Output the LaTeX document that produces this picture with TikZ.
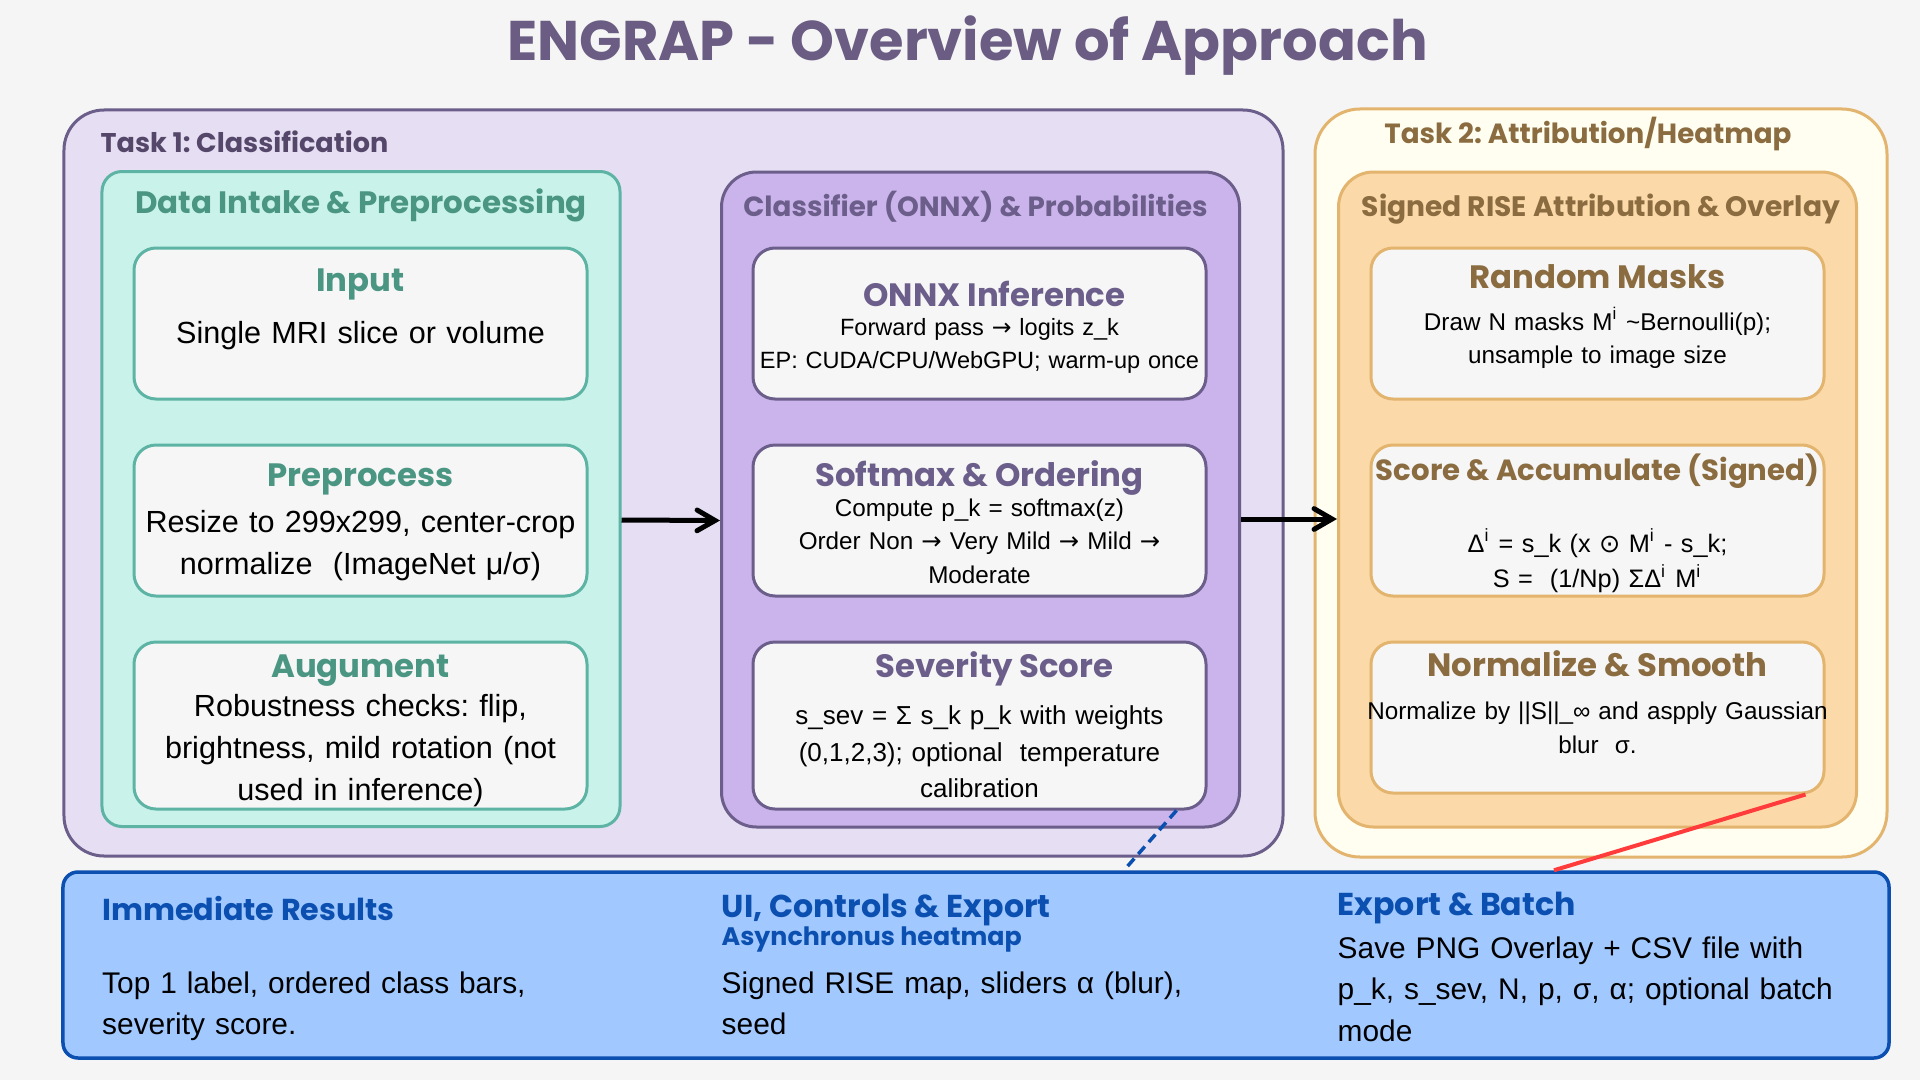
\documentclass[tikz,border=0pt]{standalone}
\usepackage{fontspec}
\setmainfont{Liberation Sans}
\newfontfamily\headfont{Poppins}
\newfontfamily\glyphfont{DejaVu Sans}
\usepackage{tikz}
\usetikzlibrary{positioning}
\usetikzlibrary{arrows}
\frenchspacing

\definecolor{pagebg}{HTML}{F5F5F5}
\definecolor{titleink}{HTML}{6A5C82}
\definecolor{lavender}{HTML}{E6DEF2}
\definecolor{plum}{HTML}{6B5E8A}
\definecolor{plumtext}{HTML}{54476A}
\definecolor{plumhead}{HTML}{6C5E8B}
\definecolor{lilac}{HTML}{CBB4EB}
\definecolor{mint}{HTML}{C9F3EA}
\definecolor{tealline}{HTML}{5DB4A4}
\definecolor{tealtext}{HTML}{4A9683}
\definecolor{cardbg}{HTML}{F6F6F6}
\definecolor{ivory}{HTML}{FFFEF0}
\definecolor{tanline}{HTML}{E3B46E}
\definecolor{peach}{HTML}{FBD9A8}
\definecolor{brownink}{HTML}{8A6C40}
\definecolor{skyblue}{HTML}{A1C9FF}
\definecolor{navy}{HTML}{0B4FB0}
\definecolor{alertred}{HTML}{FF3B3B}

\newcommand\arr{{\glyphfont →}}

\begin{document}
\begin{tikzpicture}[x=1mm,y=-1mm,>=angle 60,node distance=4.3mm,
	task box/.style={draw,line width=0.3mm,rounded corners=4mm,inner sep=0pt},
	group box/.style={draw,line width=0.3mm,rounded corners=3.5mm,inner sep=0pt,
		minimum width=51.8mm,minimum height=65.5mm},
	card/.style={draw,line width=0.3mm,rounded corners=2.2mm,fill=cardbg,inner sep=0pt,
		minimum width=45.3mm,minimum height=15.1mm},
	task head/.style={font=\headfont\bfseries\fontsize{7.7}{10}\selectfont},
	group head/.style={anchor=base,font=\headfont\bfseries\fontsize{8.0}{10}\selectfont},
	card head/.style={anchor=base,font=\headfont\bfseries\fontsize{9.2}{11}\selectfont},
	card text/.style={anchor=base,inner sep=0pt,text width=48mm,align=center},
	band head/.style={anchor=base west,inner sep=0pt,text=navy,
		font=\headfont\bfseries\fontsize{9}{11}\selectfont},
	band text/.style={anchor=base west,inner sep=0pt,text width=52mm,align=left,
		font=\fontsize{8.5}{11.9}\selectfont}]

	\path[use as bounding box,fill=pagebg] (0,0) rectangle (192,108);

	\node[anchor=base,text=titleink,font=\headfont\bfseries\fontsize{15.9}{20}\selectfont]
		(title) at (96.75,6.0) {ENGRAP - Overview of Approach};

	% Task 1
	\node[task box,fill=lavender,draw=plum,minimum width=121.9mm,minimum height=74.6mm]
		(task1) at (67.35,48.3) {};
	\node[task head,anchor=base west,inner sep=0pt,text=plumtext] (task1head) at (10.0,15.2)
		{Task 1: Classification};

	\node[group box,fill=mint,draw=tealline,rounded corners=2mm] (intake) at (36.1,49.9) {};
	\node[group head,text=tealtext,font=\headfont\bfseries\fontsize{8.8}{10}\selectfont]
		(intakehead) at ([yshift=-4.4mm]intake.north) {Data Intake \& Preprocessing};
	\node[card,draw=tealline] (input) at (36.05,32.35) {};
	\node[card,draw=tealline] (prep) [below=of input] {};
	\node[card,draw=tealline,minimum height=16.7mm] (augment) [below=of prep] {};

	\node[card head,text=tealtext] (inputhead) at ([yshift=-4.5mm]input.north) {Input};
	\node[card text,font=\fontsize{8.7}{12}\selectfont] (inputtext) at ([yshift=-9.7mm]input.north)
		{Single MRI slice or volume};
	\node[card head,text=tealtext] (prephead) at ([yshift=-4.3mm]prep.north) {Preprocess};
	\node[card text,font=\fontsize{8.7}{12}\selectfont] (preptext) at ([yshift=-8.9mm]prep.north)
		{Resize to 299x299, center-crop\\normalize\ \ (ImageNet μ/σ)};
	\node[card head,text=tealtext] (augmenthead) at ([yshift=-3.7mm]augment.north) {Augument};
	\node[card text,font=\fontsize{8.7}{12}\selectfont] (augmenttext) at ([yshift=-7.6mm]augment.north)
		{Robustness checks: flip,\\brightness, mild rotation (not\\used in inference)};

	\node[group box,fill=lilac,draw=plum] (classifier) at (98.05,49.95) {};
	\node[group head,text=plumhead,font=\headfont\bfseries\fontsize{7.9}{10}\selectfont]
		(classhead) at ([xshift=-0.5mm,yshift=-4.6mm]classifier.north) {Classifier (ONNX) \& Probabilities};
	\node[card,draw=plum] (onnx) at (97.95,32.35) {};
	\node[card,draw=plum] (softmax) [below=of onnx] {};
	\node[card,draw=plum,minimum height=16.7mm] (severity) [below=of softmax] {};

	\node[card head,text=plumhead] (onnxhead) at ([xshift=1.5mm,yshift=-6.0mm]onnx.north) {ONNX Inference};
	\node[card text,font=\fontsize{6.7}{9.3}\selectfont] (onnxtext) at ([yshift=-8.9mm]onnx.north)
		{Forward pass \arr\ logits z\_k\\EP: CUDA/CPU/WebGPU; warm-up once};
	\node[card head,text=plumhead] (softmaxhead) at ([yshift=-4.3mm]softmax.north) {Softmax \& Ordering};
	\node[card text,font=\fontsize{6.9}{9.5}\selectfont] (softmaxtext) at ([yshift=-7.3mm]softmax.north)
		{Compute p\_k = softmax(z)\\Order Non \arr\ Very Mild \arr\ Mild \arr\\Moderate};
	\node[card head,text=plumhead] (severityhead) at ([xshift=1.5mm,yshift=-3.7mm]severity.north) {Severity Score};
	\node[card text,font=\fontsize{7.4}{10.4}\selectfont] (severitytext) at ([yshift=-8.4mm]severity.north)
		{s\_sev = Σ s\_k p\_k with weights\\(0,1,2,3); optional\ \ temperature\\calibration};

	% Task 2
	\node[task box,fill=ivory,draw=tanline,rounded corners=4.5mm,minimum width=57.2mm,minimum height=74.8mm]
		(task2) at (160.1,48.3) {};
	\node[task head,anchor=base,inner sep=0pt,text=brownink,font=\headfont\bfseries\fontsize{7.9}{10}\selectfont]
		(task2head) at (158.8,14.3) {Task 2: Attribution/Heatmap};

	\node[group box,fill=peach,draw=tanline] (rise) at (159.75,49.95) {};
	\node[group head,text=brownink] (risehead) at ([xshift=0.35mm,yshift=-4.6mm]rise.north)
		{Signed RISE Attribution \& Overlay};
	\node[card,draw=tanline] (masks) at (159.75,32.35) {};
	\node[card,draw=tanline] (score) [below=of masks] {};
	\node[card,draw=tanline] (normalize) [below=of score] {};

	\node[card head,text=brownink] (maskshead) at ([yshift=-4.2mm]masks.north) {Random Masks};
	\node[card text,font=\fontsize{6.9}{9.3}\selectfont] (maskstext) at ([yshift=-8.4mm]masks.north)
		{Draw N masks M\textsuperscript{i} \textasciitilde Bernoulli(p);\\unsample to image size};
	\node[card head,text=brownink,font=\headfont\bfseries\fontsize{8.3}{11}\selectfont]
		(scorehead) at ([yshift=-3.7mm]score.north) {Score \& Accumulate (Signed)};
	\node[card text,font=\fontsize{7.2}{10}\selectfont] (scoretext) at ([yshift=-10.9mm]score.north)
		{Δ\textsuperscript{i} = s\_k (x {\glyphfont ⊙} M\textsuperscript{i} - s\_k;\\S =\ \ (1/Np) ΣΔ\textsuperscript{i} M\textsuperscript{i}};
	\node[card head,text=brownink] (normalizehead) at ([yshift=-3.6mm]normalize.north) {Normalize \& Smooth};
	\node[card text,font=\fontsize{6.9}{9.6}\selectfont] (normalizetext) at ([yshift=-7.9mm]normalize.north)
		{Normalize by ||S||\_∞ and aspply Gaussian\\blur\ \ σ.};

	% outputs
	\node[draw=navy,fill=skyblue,line width=0.35mm,rounded corners=1.5mm,inner sep=0pt,
		minimum width=182.6mm,minimum height=18.6mm] (outputs) at (97.6,96.5) {};

	\node[band head,font=\headfont\bfseries\fontsize{8.6}{11}\selectfont] (resultshead) at (10.15,92.0)
		{Immediate Results};
	\node[band text] (resultstext) at (10.15,99.3) {Top 1 label, ordered class bars,\\severity score.};
	\node[band head] (uihead) at (72.1,91.7) {UI, Controls \& Export};
	\node[band head,font=\headfont\bfseries\fontsize{7.2}{9}\selectfont] (uisub) at (72.1,94.5)
		{Asynchronus heatmap};
	\node[band text] (uitext) at (72.1,99.3) {Signed RISE map, sliders α (blur),\\seed};
	\node[band head] (exporthead) at (133.7,91.5) {Export \& Batch};
	\node[band text] (exporttext) at (133.7,95.8)
		{Save PNG Overlay + CSV file with\\p\_k, s\_sev, N, p, σ, α; optional batch\\mode};

	\path[->,line width=0.5mm]
	([yshift=-2.1mm]intake.east) edge ([yshift=-2.1mm]classifier.west)
	([yshift=-1.95mm]classifier.east) edge ([yshift=-1.95mm]rise.west);

	\draw[navy,line width=0.35mm,dash pattern=on 1mm off 0.6mm]
		([xshift=19.7mm]severity.south) -- ([xshift=14.8mm]outputs.north);
	\draw[alertred,line width=0.4mm]
		([xshift=20.8mm]normalize.south) -- ([xshift=57.8mm]outputs.north);
\end{tikzpicture}
\end{document}
